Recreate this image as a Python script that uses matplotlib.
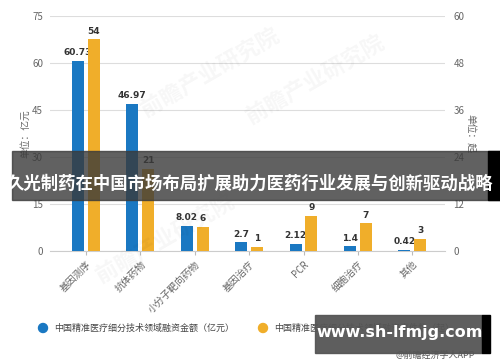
import matplotlib
matplotlib.use("Agg")
from matplotlib import pyplot as plt
from matplotlib.patches import Rectangle, Ellipse
import numpy as np

plt.rcParams['font.family'] = ['Noto Sans CJK SC', 'DejaVu Sans']

categories = ['基因测序', '抗体药物', '小分子靶向药物', '基因治疗', 'PCR', '细胞治疗', '其他']
amount = [60.73, 46.97, 8.02, 2.7, 2.12, 1.4, 0.42]   # 亿元, left axis
events = [54, 21, 6, 1, 9, 7, 3]                      # 起, right axis
amount_labels = ['60.73', '46.97', '8.02', '2.7', '2.12', '1.4', '0.42']
event_labels = ['54', '21', '6', '1', '9', '7', '3']
left_ticks = [0, 15, 30, 45, 60, 75]
right_ticks = [0, 12, 24, 36, 48, 60]

blue = '#1a78c2'
orange = '#f0ae2a'
tick_grey = '#666666'

fig = plt.figure(figsize=(5, 3.62), dpi=100)
ax = fig.add_axes([0.1, 0.307, 0.79, 0.649])
ax2 = ax.twinx()

x = np.arange(len(categories))
w = 0.22
ax.bar(x - w / 2 - 0.035, amount, w, color=blue, zorder=3)
ax2.bar(x + w / 2 + 0.035, events, w, color=orange, zorder=3)

for i in range(len(x)):
    ax.text(x[i] - w / 2 - 0.035, amount[i] + 1.2, amount_labels[i], ha='center', va='bottom',
            fontsize=6.5, fontweight='bold', color='#333333', family='DejaVu Sans')
    ax2.text(x[i] + w / 2 + 0.035, events[i] + 1.0, event_labels[i], ha='center', va='bottom',
             fontsize=6.5, fontweight='bold', color='#333333', family='DejaVu Sans')

ax.set_xlim(-0.66, 6.6)
ax.set_ylim(0, 75)
ax2.set_ylim(0, 60)
ax.set_yticks(left_ticks)
ax2.set_yticks(right_ticks)
ax.yaxis.grid(True, color='#dddddd', linewidth=0.8, zorder=0)
ax.set_axisbelow(True)

for a in (ax, ax2):
    for s in a.spines.values():
        s.set_visible(False)
ax.spines['bottom'].set_visible(True)
ax.spines['bottom'].set_color('#cccccc')

ax.set_xticks(x)
ax.set_xticklabels(categories, rotation=45, ha='right', rotation_mode='anchor',
                   fontsize=7, color=tick_grey)
ax.tick_params(axis='x', length=3, color='#bbbbbb', pad=3)
ax.tick_params(axis='y', length=0, labelsize=7, labelcolor=tick_grey, pad=5)
ax2.tick_params(axis='y', length=0, labelsize=7, labelcolor=tick_grey, pad=6)

ax.set_ylabel('单位：亿元', fontsize=7, color=tick_grey, labelpad=1)
ax2.set_ylabel('单位：起', fontsize=7, color=tick_grey, rotation=270, labelpad=8)

# faint watermarks
for wx, wy in [(0.42, 0.8), (0.63, 0.78), (0.33, 0.34)]:
    fig.text(wx, wy, '前瞻产业研究院', fontsize=16, color='#000000', alpha=0.035,
             rotation=30, ha='center', va='center', fontweight='bold')

# legend
for cx, col in [(43, blue), (263, orange)]:
    fig.patches.append(Ellipse((cx / 500, 1 - 328 / 362), 9 / 500, 9 / 362,
                               transform=fig.transFigure, color=col, figure=fig))
fig.text(54 / 500, 1 - 328 / 362, '中国精准医疗细分技术领域融资金额（亿元）', fontsize=6.5,
         color='#444444', va='center')
fig.text(274 / 500, 1 - 328 / 362, '中国精准医疗细分技术领域融资事件数（起）', fontsize=6.5,
         color='#444444', va='center')

# title band
fig.patches.append(Rectangle((12 / 500, 1 - 200 / 362), 488 / 500, 49 / 362,
                             transform=fig.transFigure, color='#3a3a3a', alpha=0.8,
                             zorder=10, figure=fig))
fig.patches.append(Rectangle((488 / 500, 1 - 200 / 362), 12 / 500, 49 / 362,
                             transform=fig.transFigure, color='#000000',
                             zorder=10, figure=fig))
fig.text(250 / 500, 1 - 184 / 362, '久光制药在中国市场布局扩展助力医药行业发展与创新驱动战略',
         fontsize=12.5, fontweight='bold', color='white', ha='center', va='center', zorder=11)

# site box
fig.patches.append(Rectangle((315 / 500, 1 - 353 / 362), 167 / 500, 38 / 362,
                             transform=fig.transFigure, color='#555555', alpha=0.95,
                             zorder=10, figure=fig))
fig.patches.append(Rectangle((482 / 500, 1 - 353 / 362), 8 / 500, 38 / 362,
                             transform=fig.transFigure, color='#000000',
                             zorder=10, figure=fig))
fig.text(400 / 500, 1 - 332 / 362, 'www.sh-lfmjg.com', fontsize=11.5, fontweight='bold',
         color='white', ha='center', va='center', zorder=11, family='DejaVu Sans')
fig.text(475 / 500, 1 - 355 / 362, '@前瞻经济学人APP', fontsize=6.5, color='#555555',
         ha='right', va='center', zorder=12)

fig.savefig('out.png', dpi=100)
